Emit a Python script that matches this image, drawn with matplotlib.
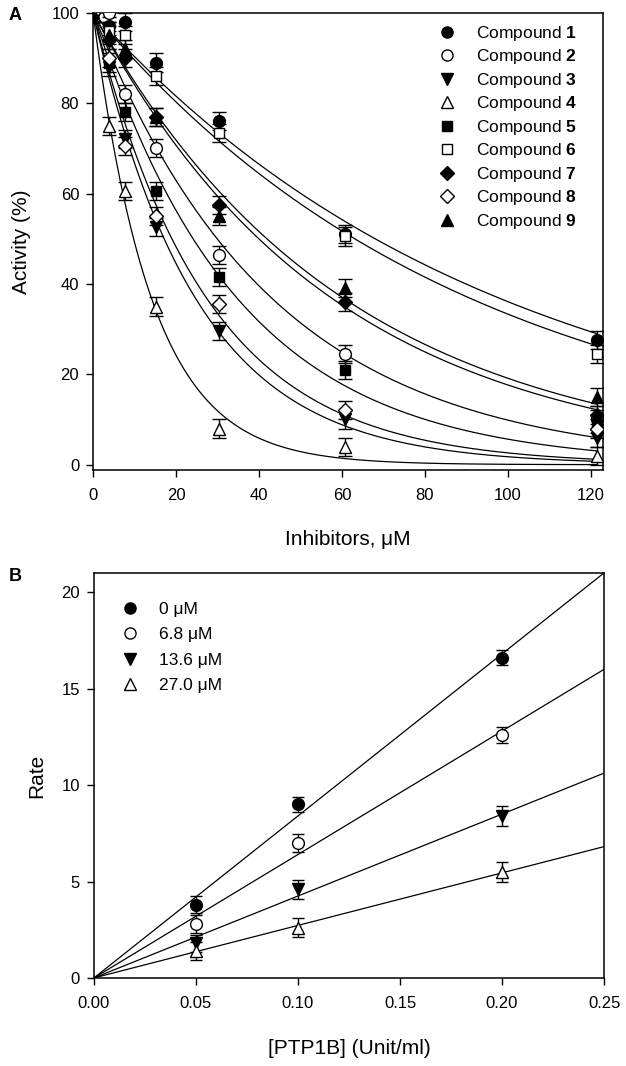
import numpy as np
import matplotlib
matplotlib.use('Agg')
import matplotlib.pyplot as plt
from matplotlib.lines import Line2D

plt.rcParams['font.family'] = ['Liberation Sans', 'DejaVu Sans']
plt.rcParams['mathtext.fontset'] = 'custom'
plt.rcParams['mathtext.bf'] = 'Liberation Sans:bold'
plt.rcParams['mathtext.rm'] = 'Liberation Sans'

# Painel A: atividade vs concentracao de inibidor
conc = [0, 3.8, 7.6, 15.2, 30.4, 60.8, 121.6]
compostos = ['1', '2', '3', '4', '5', '6', '7', '8', '9']
atividade = [
    [100, 97, 98, 89, 76, 51, 27.5],
    [100, 100, 82, 70, 46.5, 24.5, 10],
    [100, 88, 72, 52.5, 29.5, 10, 6],
    [100, 75, 60.5, 35, 8, 4, 2],
    [100, 89, 78, 60.5, 41.5, 21, 9],
    [100, 96, 95, 86, 73.5, 50.5, 24.5],
    [100, 94, 90, 77, 57.5, 36, 11],
    [100, 90, 70.5, 55, 35.5, 12, 8],
    [100, 95, 92, 77, 55, 39, 15],
]
erro_a = 2.0

# Painel B: velocidade vs [PTP1B]
enzima = [0.05, 0.10, 0.20]
inibidor = ['0 μM', '6.8 μM', '13.6 μM', '27.0 μM']
velocidade = [
    [3.8, 9.0, 16.6],
    [2.8, 7.0, 12.6],
    [1.8, 4.6, 8.4],
    [1.4, 2.6, 5.5],
]
erro_b = [
    [0.45, 0.4, 0.4],
    [0.45, 0.45, 0.4],
    [0.45, 0.5, 0.5],
    [0.45, 0.5, 0.5],
]

# estilos dos marcadores (marker, preenchido)
estilos = [('o', True), ('o', False), ('v', True), ('^', False), ('s', True),
           ('s', False), ('D', True), ('D', False), ('^', True)]
estilos_b = [('o', True), ('o', False), ('v', True), ('^', False)]

FS_TICK = 12
FS_LAB = 15
FS_LEG = 12.5


def ajuste_exp(x, y):
    """Ajusta y = 100*exp(-k x) por busca em grade (minimos quadrados)."""
    x = np.asarray(x)
    y = np.asarray(y)
    ks = np.linspace(0.001, 0.2, 20000)
    sse = [np.sum((y - 100 * np.exp(-k * x)) ** 2) for k in ks]
    return ks[int(np.argmin(sse))]


def estilo_eixo(ax):
    for s in ax.spines.values():
        s.set_linewidth(1.1)
    ax.tick_params(direction='out', length=5, width=1, labelsize=FS_TICK, pad=5,
                   top=False, right=False)
    ax.tick_params(axis='x', pad=8)


def tam(m, base):
    return base - 1 if m in ('D', 's') else base


fig = plt.figure(figsize=(6.26, 10.66), dpi=100)

# ---------- A ----------
ax = fig.add_axes([0.1486, 0.559, 0.815, 0.429])
xs = np.linspace(0, conc[-1], 400)
handles = []
for nome, y, (m, cheio) in zip(compostos, atividade, estilos):
    k = ajuste_exp(conc, y)
    ax.plot(xs, 100 * np.exp(-k * xs), color='black', lw=0.9, zorder=1)
    fc = 'black' if cheio else 'white'
    ax.errorbar(conc, y, yerr=erro_a, fmt=m, ms=tam(m, 8.5), mfc=fc, mec='black',
                mew=1.0, ecolor='black', elinewidth=1.0, capsize=5, capthick=1.0,
                zorder=3)
    handles.append(Line2D([], [], ls='none', marker=m, ms=tam(m, 8),
                          mfc=fc, mec='black', mew=1.0,
                          label='Compound $\\bf{' + nome + '}$'))
ax.set_xlim(0, 123)
ax.set_ylim(-1.2, 100)
ax.set_xticks([0, 20, 40, 60, 80, 100, 120])
ax.set_yticks([0, 20, 40, 60, 80, 100])
estilo_eixo(ax)
ax.set_xlabel('Inhibitors, μM', fontsize=FS_LAB, labelpad=19)
ax.set_ylabel('Activity (%)', fontsize=FS_LAB, labelpad=15)
ax.legend(handles=handles, loc='upper left', frameon=False, fontsize=FS_LEG,
          handlelength=1.0, handletextpad=1.2, labelspacing=0.26,
          borderpad=0, borderaxespad=0, bbox_to_anchor=(0.676, 0.976))
fig.text(0.014, 0.993, 'A', fontsize=13, fontweight='bold', va='top')

# ---------- B ----------
ax2 = fig.add_axes([0.150, 0.0826, 0.815, 0.380])
xl = np.linspace(0, 0.25, 100)
handles_b = []
for nome, y, e, (m, cheio) in zip(inibidor, velocidade, erro_b, estilos_b):
    x = np.asarray(enzima)
    yy = np.asarray(y)
    incl = np.sum(x * yy) / np.sum(x * x)  # reta pela origem
    ax2.plot(xl, incl * xl, color='black', lw=0.9, zorder=1)
    fc = 'black' if cheio else 'white'
    ax2.errorbar(enzima, y, yerr=e, fmt=m, ms=8.5, mfc=fc, mec='black',
                 mew=1.0, ecolor='black', elinewidth=1.0, capsize=4,
                 capthick=1.0, zorder=3)
    handles_b.append(Line2D([], [], ls='none', marker=m, ms=8, mfc=fc,
                            mec='black', mew=1.0, label=nome))
ax2.set_xlim(0, 0.25)
ax2.set_ylim(0, 21)
ax2.set_xticks([0, 0.05, 0.10, 0.15, 0.20, 0.25])
ax2.set_xticklabels(['0.00', '0.05', '0.10', '0.15', '0.20', '0.25'])
ax2.set_yticks([0, 5, 10, 15, 20])
estilo_eixo(ax2)
ax2.set_xlabel('[PTP1B] (Unit/ml)', fontsize=FS_LAB, labelpad=20)
ax2.set_ylabel('Rate', fontsize=FS_LAB, labelpad=11)
ax2.legend(handles=handles_b, loc='upper left', frameon=False, fontsize=FS_LEG,
           handlelength=1.0, handletextpad=1.2, labelspacing=0.58,
           borderpad=0, borderaxespad=0, bbox_to_anchor=(0.053, 0.928))
fig.text(0.014, 0.467, 'B', fontsize=13, fontweight='bold', va='top')

fig.savefig('out.png', dpi=100)
